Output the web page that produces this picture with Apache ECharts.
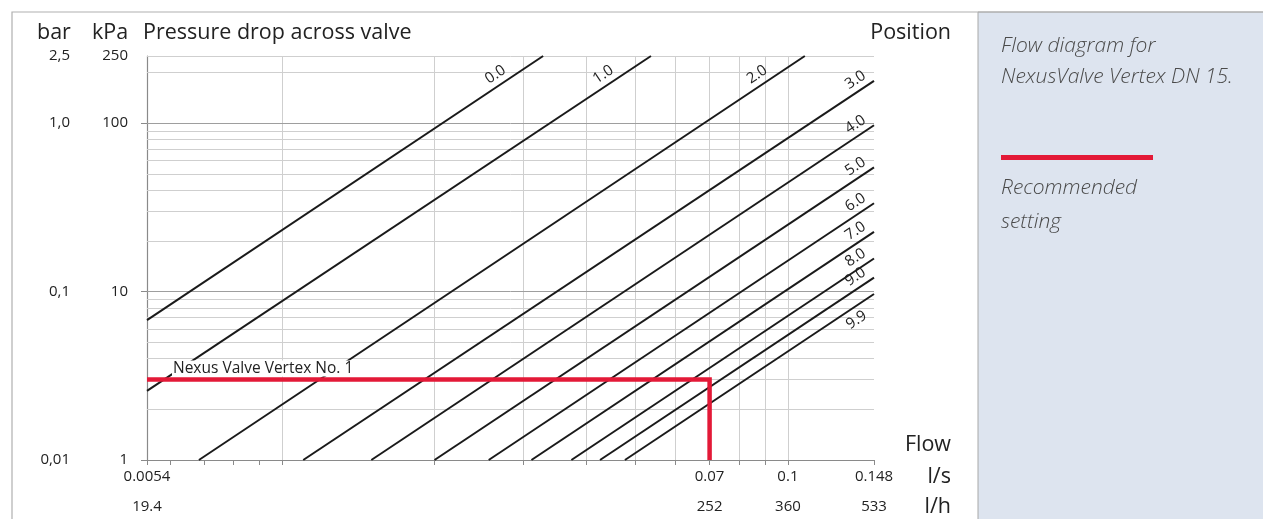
<!DOCTYPE html>
<html>
<head>
<meta charset="utf-8">
<script src="https://cdn.jsdelivr.net/npm/echarts@6/dist/echarts.min.js"></script>
<style>
  html, body { margin: 0; padding: 0; background: #fff; }
  #chart { width: 1263px; height: 519px; }
</style>
</head>
<body>
<div id="chart"></div>
<script>
// tick labels
const flowTicks = [0.0054, 0.07, 0.1, 0.148]
const flowLabelsLs = ['0.0054', '0.07', '0.1', '0.148']
const flowLabelsLh = ['19.4', '252', '360', '533']
const kpaTicks = [1, 10, 100, 250]
const kpaLabels = ['1', '10', '100', '250']
const barLabels = ['0,01', '0,1', '1,0', '2,5']

// grid lines
const flowGrid = [0.006, 0.007, 0.008, 0.009, 0.01, 0.02, 0.03, 0.04, 0.05, 0.06, 0.07, 0.08, 0.09, 0.1]
const kpaGridMinor = [2, 3, 4, 5, 6, 7, 8, 9, 20, 30, 40, 50, 60, 70, 80, 90, 200]
const kpaGridMajor = [10, 100]

// valve positions: start / end point of each curve (l/s, kPa)
const positions = ['0.0', '1.0', '2.0', '3.0', '4.0', '5.0', '6.0', '7.0', '8.0', '9.0', '9.9']
const flowStart = [0.0054, 0.0054, 0.00684, 0.0110, 0.0150, 0.0200, 0.0256, 0.0311, 0.0373, 0.0425, 0.0476]
const dpStart = [6.77, 2.57, 1, 1, 1, 1, 1, 1, 1, 1, 1]
const flowEnd = [0.0328, 0.0536, 0.108, 0.148, 0.148, 0.148, 0.148, 0.148, 0.148, 0.148, 0.148]
const dpEnd = [250, 250, 250, 178, 97, 54.6, 33.4, 22.6, 15.7, 12.1, 9.67]

// recommended setting
const recName = 'Nexus Valve Vertex No. 1'
const recFlow = [0.0054, 0.07, 0.07]
const recDp = [3, 3, 1]

const FONT = '"Open Sans", "Noto Sans", sans-serif'
const RED = '#e31937'
const chart = echarts.init(document.getElementById('chart'))

function pick(ticks, labels, v) {
    let best = 0
    ticks.forEach((t, i) => {
        if (Math.abs(Math.log(t) - Math.log(v)) < Math.abs(Math.log(ticks[best]) - Math.log(v))) best = i
    })
    return labels[best]
}

const gridLineStyle = (color) => ({ color, width: 1, type: 'solid' })

const series = [
    {
        type: 'line', data: [], z: 1, silent: true,
        markLine: {
            z: 1, silent: true, symbol: ['none', 'none'], label: { show: false },
            animation: false,
            lineStyle: gridLineStyle('#cfcfcf'),
            data: flowGrid.map(v => ({ xAxis: v }))
                .concat(kpaGridMinor.map(v => ({ yAxis: v })))
                .concat([{ yAxis: 250 }, { xAxis: 0.148 }])
        }
    },
    {
        type: 'line', data: [], z: 1, silent: true,
        markLine: {
            z: 1, silent: true, symbol: ['none', 'none'], label: { show: false },
            animation: false,
            lineStyle: gridLineStyle('#9e9e9e'),
            data: kpaGridMajor.map(v => ({ yAxis: v }))
        }
    }
]

positions.forEach((p, i) => {
    series.push({
        name: p,
        type: 'line',
        z: 3,
        showSymbol: false,
        silent: true,
        lineStyle: { color: '#1a1a1a', width: 2 },
        data: [[flowStart[i], dpStart[i]], [flowEnd[i], dpEnd[i]]]
    })
})

series.push({
    name: recName,
    type: 'line',
    z: 4,
    showSymbol: false,
    silent: true,
    lineStyle: { color: RED, width: 4.5, cap: 'butt', join: 'miter' },
    data: recFlow.map((f, i) => [f, recDp[i]])
})

const xBase = {
    type: 'log', logBase: 10, min: 0.0054, max: 0.148,
    splitLine: { show: false }
}
const yBase = {
    type: 'log', logBase: 10, min: 1, max: 250,
    splitLine: { show: false }
}

chart.setOption({
    animation: false,
    textStyle: { fontFamily: FONT },
    grid: { left: 147, right: 389, top: 56, bottom: 59 },
    xAxis: [
        {
            ...xBase,
            axisLine: { lineStyle: { color: '#8a8a8a', width: 1.2 } },
            axisTick: { show: true, length: 5, lineStyle: { color: '#8a8a8a' },
                customValues: [0.0054].concat(flowGrid, [0.148]) },
            axisLabel: { customValues: flowTicks, margin: 9, fontSize: 15, color: '#222',
                formatter: v => pick(flowTicks, flowLabelsLs, v) }
        },
        {
            ...xBase,
            position: 'bottom', offset: 30,
            axisLine: { show: false }, axisTick: { show: false },
            axisLabel: { customValues: flowTicks, margin: 9, fontSize: 15, color: '#222',
                formatter: v => pick(flowTicks, flowLabelsLh, v) }
        }
    ],
    yAxis: [
        {
            ...yBase,
            axisLine: { show: true, lineStyle: { color: '#8a8a8a', width: 1.2 } },
            axisTick: { show: true, length: 6, lineStyle: { color: '#8a8a8a' }, customValues: [1, 10, 100] },
            axisLabel: { customValues: kpaTicks, margin: 19, fontSize: 15, color: '#222',
                formatter: v => pick(kpaTicks, kpaLabels, v) }
        },
        {
            ...yBase,
            position: 'left', offset: 58,
            axisLine: { show: false }, axisTick: { show: false },
            axisLabel: { customValues: kpaTicks, margin: 19, fontSize: 15, color: '#222',
                formatter: v => pick(kpaTicks, barLabels, v) }
        }
    ],
    series
})

// text, frame and labels placed from the chart's own scales
const px = (f, p) => chart.convertToPixel({ gridIndex: 0 }, [f, p])
const big = '21.5px ' + FONT
const note = 'italic 300 21px ' + FONT
const graphics = [
    { type: 'rect', z: -10, shape: { x: 978, y: 12, width: 300, height: 520 },
      style: { fill: '#dde4ef', stroke: '#a8a8a8', lineWidth: 1 } },
    { type: 'polyline', z: -5, shape: { points: [[12, 519], [12, 12], [1263, 12]] },
      style: { stroke: '#b0b0b0', lineWidth: 1.2, fill: null } },
    { type: 'text', x: 37, y: 33, style: { text: 'bar', font: big, fill: '#222', verticalAlign: 'middle' } },
    { type: 'text', x: 92, y: 33, style: { text: 'kPa', font: big, fill: '#222', verticalAlign: 'middle' } },
    { type: 'text', x: 143, y: 33, style: { text: 'Pressure drop across valve', font: big, fill: '#222', verticalAlign: 'middle' } },
    { type: 'text', x: 951, y: 33, style: { text: 'Position', font: big, fill: '#222', align: 'right', verticalAlign: 'middle' } },
    { type: 'text', x: 951, y: 445, style: { text: 'Flow', font: big, fill: '#222', align: 'right', verticalAlign: 'middle' } },
    { type: 'text', x: 951, y: 477, style: { text: 'l/s', font: big, fill: '#222', align: 'right', verticalAlign: 'middle' } },
    { type: 'text', x: 951, y: 507, style: { text: 'l/h', font: big, fill: '#222', align: 'right', verticalAlign: 'middle' } },
    { type: 'text', x: 1001, y: 46, style: { text: 'Flow diagram for', font: note, fill: '#4a4a4a', verticalAlign: 'middle' } },
    { type: 'text', x: 1001, y: 77, style: { text: 'NexusValve Vertex DN 15.', font: note, fill: '#4a4a4a', verticalAlign: 'middle' } },
    { type: 'rect', shape: { x: 1001, y: 155, width: 152, height: 5 }, style: { fill: RED } },
    { type: 'text', x: 1001, y: 188, style: { text: 'Recommended', font: note, fill: '#4a4a4a', verticalAlign: 'middle' } },
    { type: 'text', x: 1001, y: 222, style: { text: 'setting', font: note, fill: '#4a4a4a', verticalAlign: 'middle' } }
]

// curve labels: shifted back along the line (along) and off it (normal)
positions.forEach((p, i) => {
    const a = px(flowStart[i], dpStart[i])
    const b = px(flowEnd[i], dpEnd[i])
    const len = Math.hypot(b[0] - a[0], b[1] - a[1])
    const d = [(b[0] - a[0]) / len, (b[1] - a[1]) / len]
    const n = [d[1], -d[0]]
    let along = dpEnd[i] >= 250 ? -50 : -15
    let normal = 11
    if (p === '9.9') { along = -29; normal = -12 }
    graphics.push({
        type: 'text', z: 10,
        x: b[0] + d[0] * along + n[0] * normal,
        y: b[1] + d[1] * along + n[1] * normal,
        rotation: Math.atan2(-(b[1] - a[1]), b[0] - a[0]),
        style: { text: p, font: '15px ' + FONT, fill: '#222', align: 'center', verticalAlign: 'middle' }
    })
})

const r0 = px(recFlow[0], recDp[0])
graphics.push({
    type: 'text', z: 10, x: r0[0] + 25, y: r0[1] - 3,
    style: { text: recName, font: '15.5px ' + FONT, fill: '#222', verticalAlign: 'bottom',
        backgroundColor: '#fff', padding: [0, 1, 0, 1] }
})

chart.setOption({ graphic: graphics })
</script>
</body>
</html>
